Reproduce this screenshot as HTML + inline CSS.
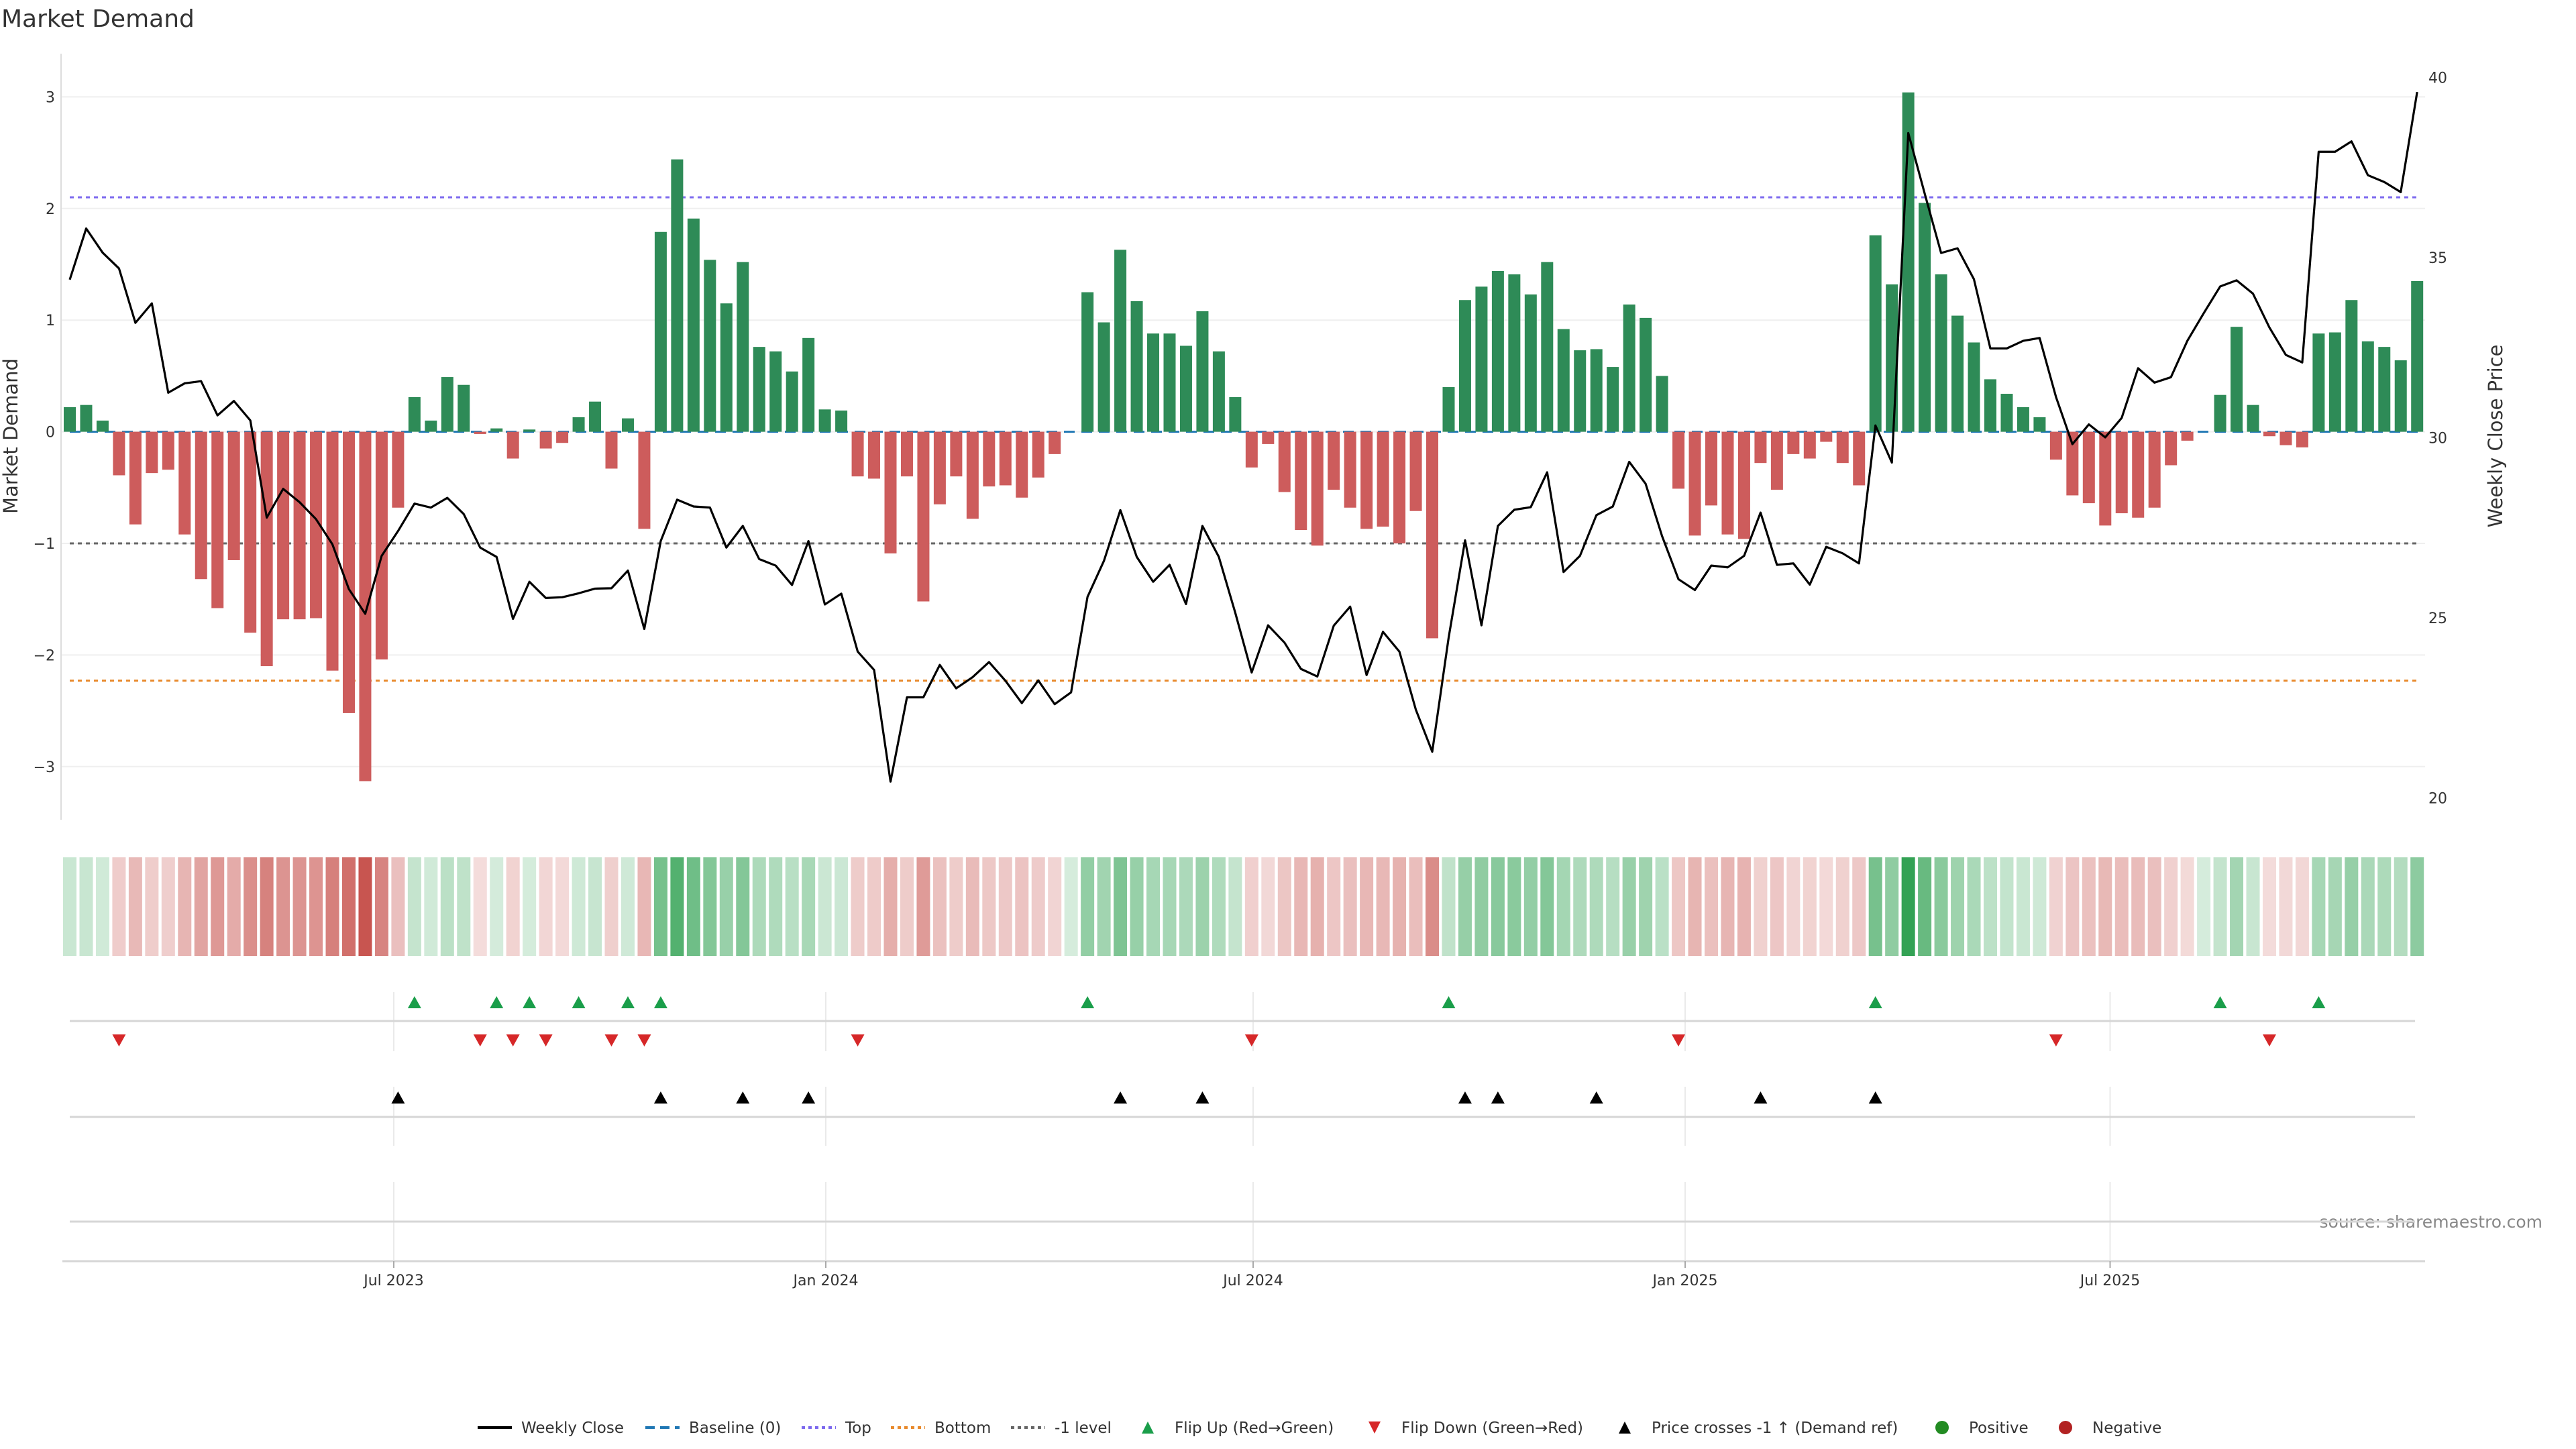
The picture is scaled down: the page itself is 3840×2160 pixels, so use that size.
<!DOCTYPE html>
<html><head><meta charset="utf-8"><style>
html,body{margin:0;padding:0;background:#fff;}
svg{display:block;font-family:"DejaVu Sans","Liberation Sans",sans-serif;}
</style></head><body>
<svg id="chart" width="3840" height="2160" viewBox="0 0 3840 2160" xmlns="http://www.w3.org/2000/svg">
<rect width="3840" height="2160" fill="#fff"/>
<text x="2" y="40" font-size="36" fill="#333">Market Demand</text>
<text transform="translate(26,650) rotate(-90)" text-anchor="middle" font-size="29" fill="#333">Market Demand</text>
<text transform="translate(3730,650) rotate(-90)" text-anchor="middle" font-size="29" fill="#333">Weekly Close Price</text>
<text x="3790" y="1830" text-anchor="end" font-size="25" fill="#888">source: sharemaestro.com</text>
<g id="main"></g>
<g id="lower"></g>
<g id="legend"></g>
</svg>
<script>
const demand = [0.22,0.24,0.10,-0.39,-0.83,-0.37,-0.34,-0.92,-1.32,-1.58,-1.15,-1.80,-2.10,-1.68,-1.68,-1.67,-2.14,-2.52,-3.13,-2.04,
-0.68,0.31,0.10,0.49,0.42,-0.02,0.03,-0.24,0.02,-0.15,-0.10,0.13,0.27,-0.33,0.12,-0.87,1.79,2.44,1.91,1.54,
1.15,1.52,0.76,0.72,0.54,0.84,0.20,0.19,-0.40,-0.42,-1.09,-0.40,-1.52,-0.65,-0.40,-0.78,-0.49,-0.48,-0.59,-0.41,
-0.20,0,1.25,0.98,1.63,1.17,0.88,0.88,0.77,1.08,0.72,0.31,-0.32,-0.11,-0.54,-0.88,-1.02,-0.52,-0.68,-0.87,
-0.85,-1.00,-0.71,-1.85,0.40,1.18,1.30,1.44,1.41,1.23,1.52,0.92,0.73,0.74,0.58,1.14,1.02,0.50,-0.51,-0.93,
-0.66,-0.92,-0.96,-0.28,-0.52,-0.20,-0.24,-0.09,-0.28,-0.48,1.76,1.32,3.04,2.05,1.41,1.04,0.80,0.47,0.34,0.22,
0.13,-0.25,-0.57,-0.64,-0.84,-0.73,-0.77,-0.68,-0.30,-0.08,0,0.33,0.94,0.24,-0.04,-0.12,-0.14,0.88,0.89,1.18,
0.81,0.76,0.64,1.35];
const price = [34.39,35.81,35.14,34.70,33.19,33.73,31.25,31.51,31.57,30.62,31.02,30.48,27.78,28.58,28.21,27.74,27.04,25.80,25.11,26.72,
27.41,28.17,28.06,28.33,27.88,26.95,26.69,24.97,26.00,25.55,25.57,25.68,25.81,25.82,26.31,24.69,27.13,28.28,28.09,28.06,
26.95,27.55,26.63,26.45,25.91,27.13,25.37,25.67,24.06,23.55,20.45,22.79,22.79,23.69,23.04,23.35,23.77,23.25,22.63,23.26,
22.60,22.93,25.58,26.58,27.99,26.69,26.00,26.47,25.38,27.55,26.69,25.14,23.48,24.79,24.31,23.58,23.37,24.78,25.31,23.41,
24.61,24.06,22.45,21.28,24.45,27.15,24.79,27.55,28.00,28.07,29.04,26.27,26.72,27.85,28.09,29.33,28.72,27.27,26.07,25.77,
26.45,26.40,26.72,27.92,26.47,26.51,25.92,26.97,26.79,26.51,30.34,29.31,38.46,36.78,35.13,35.26,34.40,32.48,32.48,32.69,
32.77,31.13,29.82,30.37,30.01,30.55,31.93,31.53,31.68,32.69,33.46,34.20,34.37,34.00,33.06,32.30,32.09,37.94,37.94,38.23,
37.29,37.10,36.82,39.60];
const levels = [{name:'top-level',v:2.10,c:'#7b68ee'},{name:'bottom-level',v:-2.23,c:'#e8892b'},{name:'minus-one-level',v:-1,c:'#666'}];
const yTicks = [3,2,1,0,-1,-2,-3];
const yTickLabels = ['3','2','1','0','\u22121','\u22122','\u22123'];
const priceTicks = [40,35,30,25,20];
const dateTicks = ['2023-07-01','2024-01-01','2024-07-01','2025-01-01','2025-07-01'];
const dateTickLabels = ['Jul 2023','Jan 2024','Jul 2024','Jan 2025','Jul 2025'];
const crossLevel = 27.05;

const NS='http://www.w3.org/2000/svg';
function mk(parent,tag,attrs,txt){const e=document.createElementNS(NS,tag);for(const k in attrs)e.setAttribute(k,attrs[k]);if(txt!==undefined)e.textContent=txt;parent.appendChild(e);return e;}
const X0=104, DX=24.47;
const xIdx=i=>X0+DX*i;
const start=Date.UTC(2023,1,13);
const xDate=s=>{const p=s.split('-');return X0+24.5*(Date.UTC(+p[0],+p[1]-1,+p[2])-start)/(7*86400000);};
const yD=v=>643.6-166.4*v;
const yP=p=>652.5-53.68*(p-30);
const main=document.getElementById('main'), lower=document.getElementById('lower');

const ax=mk(main,'line',{x1:91,y1:80,x2:91,y2:1222,stroke:'#ddd','stroke-width':2});


yTicks.forEach((t,i)=>{
  const g=mk(main,'line',{x1:92,y1:yD(t),x2:3615,y2:yD(t),stroke:'#efefef','stroke-width':2});
  
  
  const l=mk(main,'text',{x:82,y:yD(t)+8,'text-anchor':'end','font-size':22,fill:'#333'},yTickLabels[i]);
  
  
});
priceTicks.forEach(p=>{
  const l=mk(main,'text',{x:3620,y:yP(p)+8,'font-size':22,fill:'#333'},String(p));
  
  
});
const bl=mk(main,'line',{x1:104,y1:yD(0),x2:3607,y2:yD(0),stroke:'#1f77b4','stroke-width':3,'stroke-dasharray':'16,10'});


levels.forEach(L=>{
  const e=mk(main,'line',{x1:104,y1:yD(L.v),x2:3607,y2:yD(L.v),stroke:L.c,'stroke-width':3,'stroke-dasharray':'6,6'});
  
  
});
demand.forEach((v,i)=>{
  if(v===0)return;
  const y0=yD(0),y1=yD(v);
  const r=mk(main,'rect',{x:xIdx(i)-9,y:Math.min(y0,y1),width:18,height:Math.abs(y1-y0),fill:v>0?'#2e8b57':'#cd5c5c'});
  
  
});
const pl=mk(main,'polyline',{points:price.map((p,i)=>xIdx(i)+','+yP(p)).join(' '),fill:'none',stroke:'#000','stroke-width':3.2,'stroke-linejoin':'round'});



const maxAbs=Math.max(...demand.map(Math.abs));
demand.forEach((v,i)=>{
  const t=0.2+0.8*Math.abs(v)/maxAbs;
  const base=v<0?[200,85,80]:[46,160,80];
  const c=base.map(b=>Math.round(255-(255-b)*t));
  const r=mk(lower,'rect',{x:xIdx(i)-10,y:1278,width:20,height:147,fill:'rgb('+c.join(',')+')'});
  
  
});
dateTicks.forEach(d=>{
  const x=xDate(d);
  [[1479,1567],[1620,1708],[1762,1878]].forEach(s=>{
    const g=mk(lower,'line',{x1:x,y1:s[0],x2:x,y2:s[1],stroke:'#eaeaea','stroke-width':2});
    
    
  });
});
[1522,1665,1821].forEach(y=>{
  const l=mk(lower,'line',{x1:104,y1:y,x2:3600,y2:y,stroke:'#d6d6d6','stroke-width':3});
  
  
});
const xa=mk(lower,'line',{x1:93,y1:1880,x2:3615,y2:1880,stroke:'#d6d6d6','stroke-width':3});


dateTicks.forEach((d,i)=>{
  const x=xDate(d);
  mk(lower,'line',{x1:x,y1:1880,x2:x,y2:1890,stroke:'#aaa','stroke-width':2});
  const l=mk(lower,'text',{x:x,y:1916,'text-anchor':'middle','font-size':22,fill:'#333'},dateTickLabels[i]);
  
  
});
function tri(x,y,up,col,name){
  const pts=up?[[x-10,y+9],[x+10,y+9],[x,y-9]]:[[x-10,y-9],[x+10,y-9],[x,y+9]];
  const e=mk(lower,'polygon',{points:pts.map(p=>p.join(',')).join(' '),fill:col});
  
  
}
let lastSign=Math.sign(demand[0]);
demand.forEach((v,i)=>{
  const s=Math.sign(v);
  if(s===0||i===0)return;
  if(s!==lastSign){
    if(s>0)tri(xIdx(i),1494,true,'#1a9e4a','flip-up-marker');
    else tri(xIdx(i),1551,false,'#d62728','flip-down-marker');
  }
  lastSign=s;
});
price.forEach((p,i)=>{
  if(i>0&&price[i-1]<crossLevel&&p>=crossLevel)tri(xIdx(i),1636,true,'#000','price-cross-marker');
});

const leg=document.getElementById('legend');
const items=[
 {t:'Weekly Close',x:777,k:'line',c:'#000',d:''},
 {t:'Baseline (0)',x:1027,k:'line',c:'#1f77b4',d:'14,8'},
 {t:'Top',x:1260,k:'line',c:'#7b68ee',d:'5,5'},
 {t:'Bottom',x:1393,k:'line',c:'#e8892b',d:'5,5'},
 {t:'-1 level',x:1572,k:'line',c:'#666',d:'5,5'},
 {t:'Flip Up (Red\u2192Green)',x:1751,k:'up',c:'#1a9e4a'},
 {t:'Flip Down (Green\u2192Red)',x:2089,k:'down',c:'#d62728'},
 {t:'Price crosses -1 \u2191 (Demand ref)',x:2462,k:'up',c:'#000'},
 {t:'Positive',x:2935,k:'dot',c:'#228b22'},
 {t:'Negative',x:3119,k:'dot',c:'#b22222'}];
items.forEach(it=>{
  const g=mk(leg,'g',{});
  
  
  const y=2128, mx=it.x-40;
  if(it.k==='line'){mk(g,'line',{x1:it.x-65,y1:y,x2:it.x-14,y2:y,stroke:it.c,'stroke-width':4,'stroke-dasharray':it.d});}
  else if(it.k==='up'){mk(g,'polygon',{points:`${mx-9},${y+9} ${mx+9},${y+9} ${mx},${y-9}`,fill:it.c});}
  else if(it.k==='down'){mk(g,'polygon',{points:`${mx-9},${y-9} ${mx+9},${y-9} ${mx},${y+9}`,fill:it.c});}
  else {mk(g,'circle',{cx:mx,cy:y,r:10,fill:it.c});}
  mk(g,'text',{x:it.x,y:y+8,'font-size':23,fill:'#333'},it.t);
});
</script>
</body></html>
